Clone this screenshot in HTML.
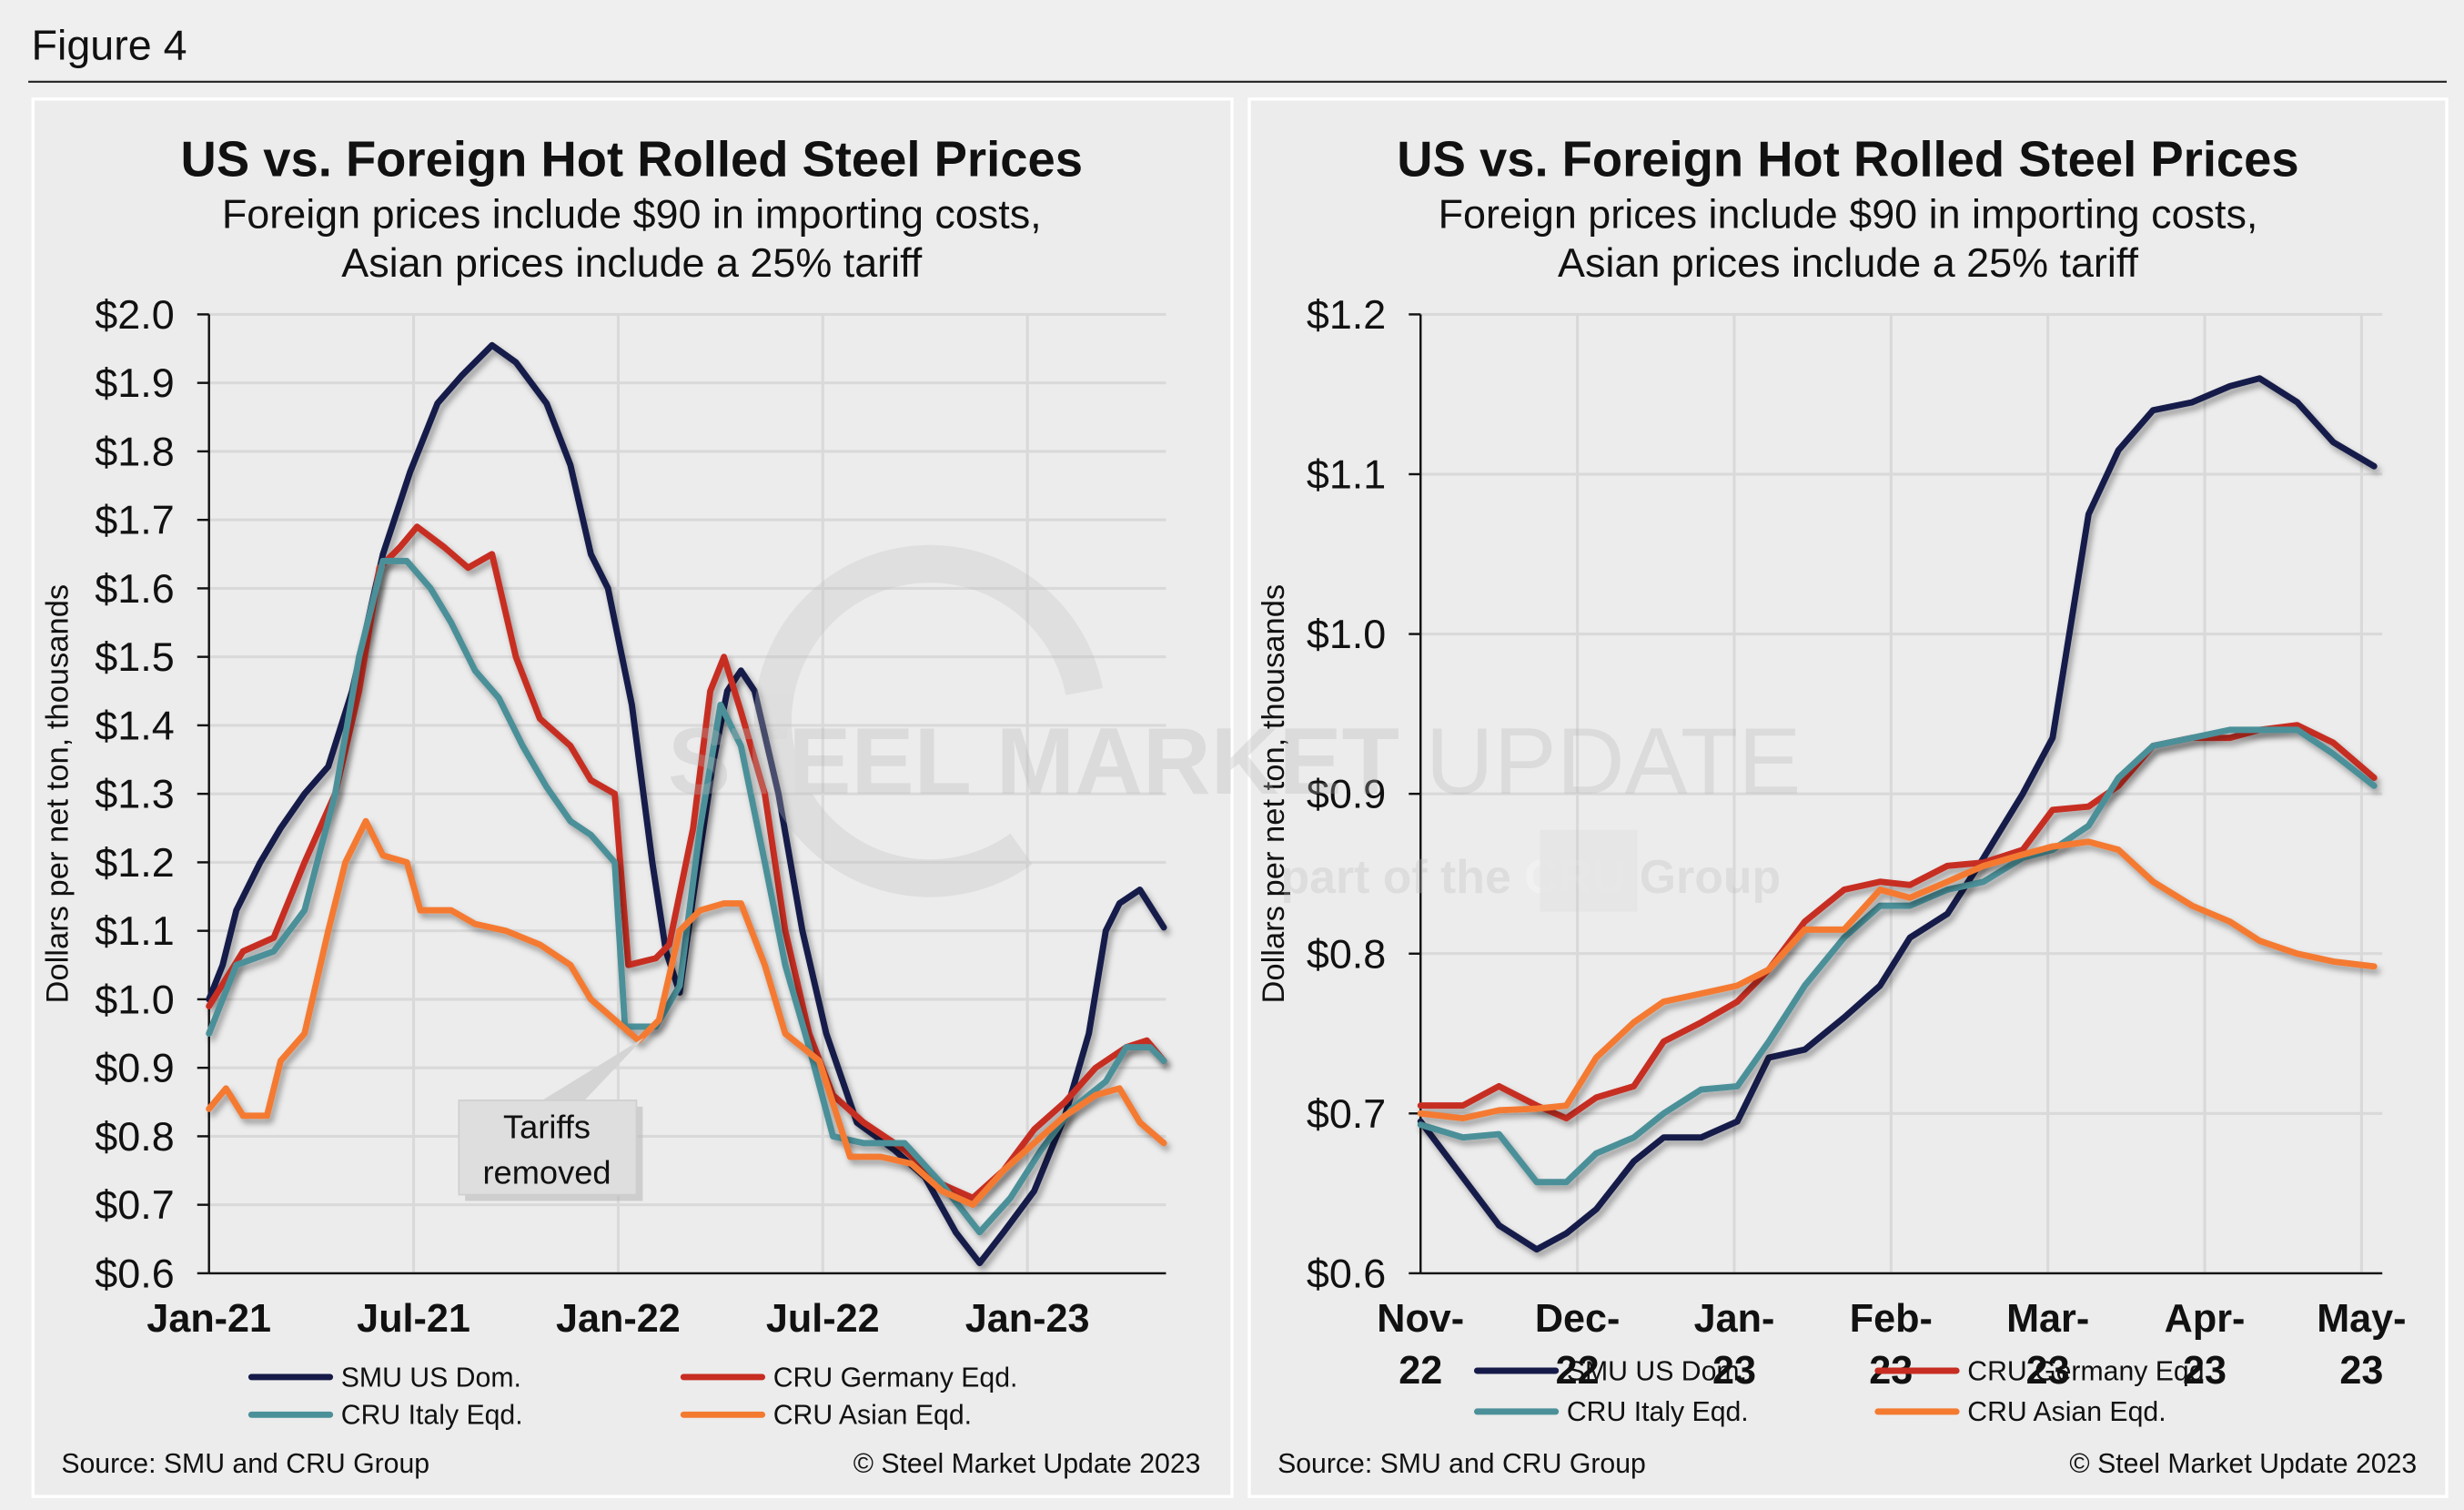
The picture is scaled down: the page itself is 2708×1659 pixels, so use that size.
<!DOCTYPE html>
<html><head><meta charset="utf-8">
<style>
html,body{margin:0;padding:0;background:#efefef;}
svg{display:block;font-family:"Liberation Sans",Arial,sans-serif;}
</style></head>
<body>
<svg id="fig" width="2708" height="1659" viewBox="0 0 1568 960.6" preserveAspectRatio="none" xmlns="http://www.w3.org/2000/svg">
<defs>
<filter id="shadow" x="-10%" y="-10%" width="120%" height="120%">
<feDropShadow dx="2" dy="3" stdDeviation="2" flood-color="#000" flood-opacity="0.35"/>
</filter>
</defs>
<rect x="0" y="0" width="1568" height="960.6" fill="#efefef"/>
<text x="20" y="38" font-size="27" fill="#111">Figure 4</text>
<line x1="18" y1="52" x2="1557" y2="52" stroke="#222" stroke-width="1.2"/>
<rect x="21" y="63" width="763" height="889" fill="#ececec" stroke="#fff" stroke-width="2"/>
<rect x="795" y="63" width="762" height="889" fill="#ececec" stroke="#fff" stroke-width="2"/>

<g id="left"></g>
<g id="right"></g>

<g opacity="0.3">
<path d="M 690 440 A 100 100 0 1 0 650 540" fill="none" stroke="#c0c0c0" stroke-width="24"/>
<text x="425" y="505" font-size="60" font-weight="bold" fill="#b5b5b5">STEEL MARKET <tspan font-weight="normal">UPDATE</tspan></text>
<text x="815" y="568" font-size="30" font-weight="bold" fill="#bdbdbd">part of the <tspan fill="#fff">CRU</tspan> Group</text>
<rect x="980" y="528" width="62" height="52" fill="#c8c8c8" opacity="0.6"/>
</g>
</svg>
<script>
// ---------- Left chart data (months since Jan-21) ----------
const leftYTicks = [0.6,0.7,0.8,0.9,1.0,1.1,1.2,1.3,1.4,1.5,1.6,1.7,1.8,1.9,2.0];
const leftXTickLabels = ["Jan-21","Jul-21","Jan-22","Jul-22","Jan-23"];
const leftXTickMonths = [0,6,12,18,24];
const lSmuM = [0,0.4,0.8,1.5,2.1,2.8,3.5,4.2,5.1,5.9,6.7,7.4,8.3,9,9.9,10.6,11.2,11.7,12.4,13,13.4,13.8,14.2,14.8,15.2,15.6,16,16.7,17.4,18.1,19,20.1,21,21.9,22.6,23.3,24.2,25.1,25.8,26.3,26.7,27.3,28];
const lSmuV = [1.0,1.05,1.13,1.2,1.25,1.3,1.34,1.45,1.65,1.77,1.87,1.91,1.955,1.93,1.87,1.78,1.65,1.6,1.43,1.2,1.07,1.01,1.15,1.35,1.45,1.48,1.45,1.3,1.1,0.95,0.82,0.78,0.74,0.66,0.615,0.66,0.72,0.83,0.95,1.1,1.14,1.16,1.105];
const lGerM = [0,1,1.9,2.8,3.7,4.4,5,5.6,6.1,6.9,7.6,8.3,9,9.7,10.6,11.2,11.9,12.3,13.1,13.5,14.2,14.7,15.1,15.6,16.3,16.9,17.6,18.3,19.2,20.4,21.5,22.4,23.3,24.2,25.1,26,26.9,27.5,28];
const lGerV = [0.99,1.07,1.09,1.2,1.3,1.45,1.63,1.66,1.69,1.66,1.63,1.65,1.5,1.41,1.37,1.32,1.3,1.05,1.06,1.08,1.25,1.45,1.5,1.42,1.3,1.1,0.95,0.86,0.82,0.78,0.73,0.71,0.75,0.81,0.85,0.9,0.93,0.94,0.91];
const lItaM = [0,0.8,1.9,2.8,3.7,4.4,5.1,5.8,6.5,7.1,7.8,8.5,9.2,9.9,10.6,11.2,11.9,12.2,13.1,13.8,14.4,15,15.6,16.3,16.9,17.6,18.3,19.2,20.4,21.5,22.6,23.5,24.4,25.3,26.3,26.9,27.6,28];
const lItaV = [0.95,1.05,1.07,1.13,1.3,1.5,1.64,1.64,1.6,1.55,1.48,1.44,1.37,1.31,1.26,1.24,1.2,0.96,0.96,1.02,1.25,1.43,1.37,1.2,1.05,0.93,0.8,0.79,0.79,0.73,0.66,0.71,0.78,0.84,0.88,0.93,0.93,0.91];
const lAsiM = [0,0.5,1,1.7,2.1,2.8,3.5,4,4.6,5.1,5.8,6.2,7.1,7.8,8.7,9.7,10.6,11.2,11.9,12.6,13.2,13.8,14.4,15.1,15.6,16.3,16.9,17.9,18.8,19.7,20.6,21.5,22.4,23.3,24.2,25.1,26,26.7,27.3,28];
const lAsiV = [0.84,0.87,0.83,0.83,0.91,0.95,1.1,1.2,1.26,1.21,1.2,1.13,1.13,1.11,1.1,1.08,1.05,1.0,0.97,0.94,0.97,1.1,1.13,1.14,1.14,1.05,0.95,0.91,0.77,0.77,0.76,0.72,0.70,0.75,0.79,0.83,0.86,0.87,0.82,0.79];

// ---------- Right chart data (months since Nov-22) ----------
const rightYTicks = [0.6,0.7,0.8,0.9,1.0,1.1,1.2];
const rightXTickLabels = [["Nov-","22"],["Dec-","22"],["Jan-","23"],["Feb-","23"],["Mar-","23"],["Apr-","23"],["May-","23"]];
const rightXTickMonths = [0,1,2,3,4,5,6];
const rM = [0,0.27,0.50,0.74,0.93,1.12,1.36,1.55,1.79,2.02,2.22,2.45,2.70,2.93,3.12,3.36,3.59,3.84,4.03,4.26,4.45,4.67,4.92,5.16,5.35,5.59,5.82,6.08];
const rSmuV = [0.695,0.66,0.63,0.615,0.625,0.64,0.67,0.685,0.685,0.695,0.735,0.74,0.76,0.78,0.81,0.825,0.86,0.9,0.935,1.075,1.115,1.14,1.145,1.155,1.16,1.145,1.12,1.105];
const rGerV = [0.705,0.705,0.717,0.705,0.697,0.71,0.717,0.745,0.757,0.77,0.79,0.82,0.84,0.845,0.843,0.855,0.857,0.865,0.89,0.892,0.905,0.93,0.935,0.935,0.94,0.943,0.932,0.91];
const rItaV = [0.693,0.685,0.687,0.657,0.657,0.675,0.685,0.7,0.715,0.717,0.745,0.78,0.81,0.83,0.83,0.84,0.845,0.86,0.865,0.88,0.91,0.93,0.935,0.94,0.94,0.94,0.925,0.905];
const rAsiV = [0.7,0.697,0.702,0.703,0.705,0.735,0.757,0.77,0.775,0.78,0.79,0.815,0.815,0.84,0.835,0.845,0.855,0.862,0.867,0.87,0.865,0.845,0.83,0.82,0.808,0.8,0.795,0.792];

const seriesNames = ["SMU US Dom.","CRU Germany Eqd.","CRU Italy Eqd.","CRU Asian Eqd."];
const colors = ["#161a48","#c72d22","#4b9099","#f47a30"];
const NS = "http://www.w3.org/2000/svg";

function mk(parent, tag, attrs, text){
  const e = document.createElementNS(NS, tag);
  for (const k in attrs) e.setAttribute(k, attrs[k]);
  if (text !== undefined) e.textContent = text;
  parent.appendChild(e);
  return e;
}

function drawChart(g, cfg){
  const xS = m => cfg.x0 + (m - cfg.m0) * cfg.pxPerM;
  const yS = v => cfg.yBottom - (v - cfg.vMin) / (cfg.vMax - cfg.vMin) * (cfg.yBottom - cfg.yTop);
  let t = mk(g,"text",{x:cfg.cx,y:112,"font-size":31.5,"font-weight":"bold","text-anchor":"middle",fill:"#111"},"US vs. Foreign Hot Rolled Steel Prices");
  
  
  t = mk(g,"text",{x:cfg.cx,y:145,"font-size":26,"text-anchor":"middle",fill:"#111"},"Foreign prices include $90 in importing costs,");
  
  
  t = mk(g,"text",{x:cfg.cx,y:176,"font-size":26,"text-anchor":"middle",fill:"#111"},"Asian prices include a 25% tariff");
  
  
  cfg.yTicks.forEach(v=>{
    const l = mk(g,"line",{x1:cfg.axisX,x2:cfg.plotRight,y1:yS(v),y2:yS(v),stroke:"#d9d9d9","stroke-width":1.8});
    
    
  });
  cfg.xTickMonths.forEach((m,i)=>{
    if (i===0) return;
    const l = mk(g,"line",{x1:xS(m),x2:xS(m),y1:cfg.yTop,y2:cfg.yBottom,stroke:"#d9d9d9","stroke-width":1.8});
    
    
  });
  cfg.yTicks.forEach(v=>{
    const tx = mk(g,"text",{x:cfg.axisX-22,y:yS(v)+9,"font-size":26,"text-anchor":"end",fill:"#111"},"$"+v.toFixed(1));
    
    
    const tk = mk(g,"line",{x1:cfg.axisX-7.5,x2:cfg.axisX,y1:yS(v),y2:yS(v),stroke:"#111","stroke-width":1.4});
    
    
  });
  let ax = mk(g,"line",{x1:cfg.axisX,x2:cfg.axisX,y1:cfg.yTop,y2:cfg.yBottom,stroke:"#111","stroke-width":1.4});
  
  
  ax = mk(g,"line",{x1:cfg.axisX,x2:cfg.plotRight,y1:cfg.yBottom,y2:cfg.yBottom,stroke:"#111","stroke-width":1.4});
  
  
  const yt = mk(g,"text",{x:0,y:0,"font-size":20,"text-anchor":"middle",fill:"#111",transform:`translate(${cfg.yTitleX},505) rotate(-90)`},"Dollars per net ton, thousands");
  
  
  cfg.xTickMonths.forEach((m,i)=>{
    const lab = cfg.xTickLabels[i];
    const lines = Array.isArray(lab) ? lab : [lab];
    lines.forEach((s,j)=>{
      const tx = mk(g,"text",{x:xS(m),y:847+j*33,"font-size":25,"font-weight":"bold","text-anchor":"middle",fill:"#111"},s);
      
      
    });
  });
  cfg.series.forEach((s,i)=>{
    const d = s.v.map((v,k)=>(k?"L":"M")+xS(s.m[k]).toFixed(1)+" "+yS(v).toFixed(1)).join(" ");
    const p = mk(g,"path",{d:d,fill:"none",stroke:colors[i],"stroke-width":4,"stroke-linejoin":"round","stroke-linecap":"round",filter:"url(#shadow)"});
    
    
  });
  cfg.legendPos.forEach((pos,i)=>{
    const l = mk(g,"line",{x1:pos[0],x2:pos[0]+50,y1:pos[1],y2:pos[1],stroke:colors[i],"stroke-width":4,"stroke-linecap":"round"});
    
    
    const tx = mk(g,"text",{x:pos[0]+57,y:pos[1]+6,"font-size":17.5,fill:"#111"},seriesNames[i]);
    
    
  });
  let s1 = mk(g,"text",{x:cfg.srcX,y:937,"font-size":17.5,fill:"#111"},"Source: SMU and CRU Group");
  
  
  s1 = mk(g,"text",{x:cfg.copyX,y:937,"font-size":17.5,fill:"#111","text-anchor":"end"},"© Steel Market Update 2023");
  
  
}

const L = document.getElementById("left");
drawChart(L,{cx:402,x0:133,m0:0,pxPerM:21.7,yTop:200,yBottom:810,vMin:0.6,vMax:2.0,axisX:133,plotRight:742,
  yTicks:leftYTicks,xTickMonths:leftXTickMonths,xTickLabels:leftXTickLabels,yTitleX:43,
  series:[{m:lSmuM,v:lSmuV},{m:lGerM,v:lGerV},{m:lItaM,v:lItaV},{m:lAsiM,v:lAsiV}],
  legendPos:[[160,876],[435,876],[160,900],[435,900]],srcX:39,copyX:764});

const R = document.getElementById("right");
drawChart(R,{cx:1176,x0:904,m0:0,pxPerM:99.8,yTop:200,yBottom:810,vMin:0.6,vMax:1.2,axisX:904,plotRight:1516,
  yTicks:rightYTicks,xTickMonths:rightXTickMonths,xTickLabels:rightXTickLabels,yTitleX:817,
  series:[{m:rM,v:rSmuV},{m:rM,v:rGerV},{m:rM,v:rItaV},{m:rM,v:rAsiV}],
  legendPos:[[940,872],[1195,872],[940,898],[1195,898]],srcX:813,copyX:1538});

const c = mk(L,"g",{});


mk(c,"rect",{x:296,y:704,width:113,height:60,fill:"#bbb",opacity:0.6});
mk(c,"polygon",{points:"345,700 372,700 410,660",fill:"#d4d4d4"});
mk(c,"rect",{x:292,y:700,width:113,height:60,fill:"#dedede",stroke:"#cfcfcf"});
mk(c,"text",{x:348,y:724,"font-size":21,"text-anchor":"middle",fill:"#111"},"Tariffs");
mk(c,"text",{x:348,y:753,"font-size":21,"text-anchor":"middle",fill:"#111"},"removed");
</script>
</body></html>
